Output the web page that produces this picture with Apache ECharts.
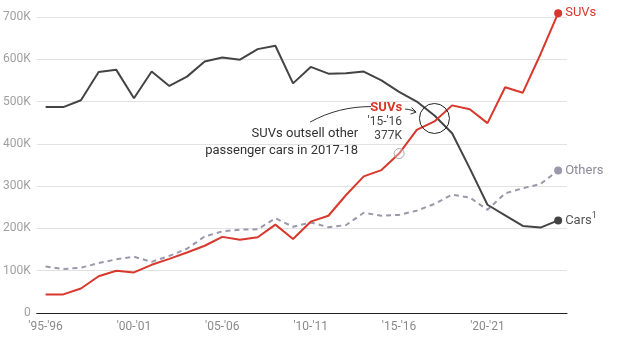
<!DOCTYPE html>
<html>
<head>
<meta charset="utf-8">
<script src="https://cdn.jsdelivr.net/npm/echarts@6/dist/echarts.min.js"></script>
<style>
html,body{margin:0;padding:0;background:#fff;}
#chart{width:617px;height:352px;}
</style>
</head>
<body>
<div id="chart"></div>
<script>
const categories = ["'95-'96","'96-'97","'97-'98","'98-'99","'99-'00","'00-'01","'01-'02","'02-'03","'03-'04","'04-'05",
"'05-'06","'06-'07","'07-'08","'08-'09","'09-'10","'10-'11","'11-'12","'12-'13","'13-'14","'14-'15",
"'15-'16","'16-'17","'17-'18","'18-'19","'19-'20","'20-'21","'21-'22","'22-'23","'23-'24","'24-'25"];
// values in thousands
const cars = [487,487,503,570,575,508,571,537,559,595,604,599,624,632,543,582,566,567,571,550,523,500,467,425,342,256,231,206,202,219];
const suvs = [44,44,58,87,100,96,114,128,143,159,180,173,179,209,175,216,230,279,323,338,377,433,453,491,482,449,534,521,612,709];
const others = [110,104,107,118,127,133,121,135,152,181,193,197,198,224,204,214,203,208,237,230,232,242,258,280,273,244,283,295,305,337];
const yTicks = [0,100000,200000,300000,400000,500000,600000,700000];

const FONT = 'Roboto, "Noto Sans", sans-serif';
const RED = '#d8372c';
const DARK = '#444444';
const GREY = '#9a98aa';
const lastIdx = categories.length - 1;
const toK = a => a.map(v => v * 1000);

const chart = echarts.init(document.getElementById('chart'), null, {renderer: 'canvas'});

function endSym(color) {
  return {
    symbol: 'circle',
    showSymbol: true,
    showAllSymbol: true,
    clip: false,
    symbolSize: (v, p) => (p.dataIndex === lastIdx ? 8 : 0),
    itemStyle: {color: color}
  };
}

chart.setOption({
  animation: false,
  textStyle: {fontFamily: FONT},
  grid: {left: 36, right: 50, top: 17, bottom: 39, containLabel: false},
  xAxis: {
    type: 'category',
    data: categories,
    boundaryGap: true,
    axisLine: {show: true, onZero: true, lineStyle: {color: '#222', width: 1.2}},
    axisTick: {show: false},
    axisLabel: {interval: 4, color: '#8a8a8a', fontSize: 12, margin: 8, fontFamily: FONT},
    splitLine: {show: false}
  },
  yAxis: {
    type: 'value',
    min: yTicks[0],
    max: yTicks[yTicks.length - 1],
    interval: yTicks[1] - yTicks[0],
    axisLine: {show: false},
    axisTick: {show: false},
    axisLabel: {
      color: '#a0a0a0', fontSize: 12, margin: 6, fontFamily: FONT,
      formatter: v => (v === 0 ? '0' : (v / 1000) + 'K')
    },
    splitLine: {lineStyle: {color: '#e2e2e2', width: 1}}
  },
  series: [
    Object.assign({
      name: 'Others', type: 'line', data: toK(others),
      lineStyle: {color: GREY, width: 2, type: [5, 4]},
      endLabel: {show: true, formatter: 'Others', color: '#8c8a9c', fontSize: 13, distance: 7, fontFamily: FONT},
      z: 2
    }, endSym(GREY)),
    Object.assign({
      name: 'Cars', type: 'line', data: toK(cars),
      lineStyle: {color: DARK, width: 2},
      endLabel: {
        show: true, distance: 7,
        formatter: '{a|Cars}{s|1}',
        rich: {
          a: {color: '#555', fontSize: 13, fontFamily: FONT},
          s: {color: '#555', fontSize: 9, fontFamily: FONT, padding: [0, 0, 9, 0]}
        }
      },
      z: 3
    }, endSym(DARK)),
    Object.assign({
      name: 'SUVs', type: 'line', data: toK(suvs),
      lineStyle: {color: RED, width: 2},
      endLabel: {show: true, formatter: 'SUVs', color: RED, fontSize: 13, distance: 7, fontFamily: FONT},
      z: 4
    }, endSym(RED))
  ]
});

// annotations anchored to data points
const hiIdx = categories.indexOf("'15-'16");
const p = chart.convertToPixel({xAxisIndex: 0, yAxisIndex: 0}, [hiIdx, suvs[hiIdx] * 1000]);
const crossIdx = categories.indexOf("'17-'18");
const c = chart.convertToPixel({xAxisIndex: 0, yAxisIndex: 0}, [crossIdx, 460000]);
const ax = p[0], ay = p[1];

chart.setOption({
  graphic: [
    {type: 'circle', shape: {cx: c[0], cy: c[1], r: 15}, style: {fill: 'none', stroke: '#222', lineWidth: 1}, z: 10},
    {type: 'circle', shape: {cx: ax, cy: ay, r: 5}, style: {fill: 'rgba(255,255,255,0.3)', stroke: '#aaa', lineWidth: 1}, z: 10},
    {type: 'text', style: {x: ax + 3, y: ay - 46, text: 'SUVs', fill: RED, font: 'bold 13px ' + FONT, textAlign: 'right', textVerticalAlign: 'middle'}, z: 10},
    {type: 'text', style: {x: ax + 3, y: ay - 31.5, text: "'15-'16", fill: '#444', font: '12px ' + FONT, textAlign: 'right', textVerticalAlign: 'middle'}, z: 10},
    {type: 'text', style: {x: ax + 3, y: ay - 18, text: '377K', fill: '#444', font: '12px ' + FONT, textAlign: 'right', textVerticalAlign: 'middle'}, z: 10},
    {type: 'text', style: {x: ax - 41, y: ay - 19.5, text: 'SUVs outsell other', fill: '#333', font: '13px ' + FONT, textAlign: 'right', textVerticalAlign: 'middle'}, z: 10},
    {type: 'text', style: {x: ax - 41, y: ay - 2.5, text: 'passenger cars in 2017-18', fill: '#333', font: '13px ' + FONT, textAlign: 'right', textVerticalAlign: 'middle'}, z: 10},
    {type: 'bezierCurve', shape: {x1: ax - 89, y1: ay - 31.5, x2: ax - 28, y2: ay - 47, cpx1: ax - 70, cpy1: ay - 42, cpx2: ax - 50, cpy2: ay - 47}, style: {stroke: '#333', lineWidth: 1, fill: 'none'}, z: 10},
    {type: 'bezierCurve', shape: {x1: ax + 6, y1: ay - 44.5, x2: ax + 17, y2: ay - 41.5, cpx1: ax + 10, cpy1: ay - 44.5, cpx2: ax + 14, cpy2: ay - 43}, style: {stroke: '#333', lineWidth: 1, fill: 'none'}, z: 10},
    {type: 'polyline', shape: {points: [[ax + 12.5, ay - 46], [ax + 17, ay - 41.5], [ax + 11.5, ay - 39.5]]}, style: {stroke: '#333', lineWidth: 1, fill: 'none'}, z: 10}
  ]
});
</script>
</body>
</html>
